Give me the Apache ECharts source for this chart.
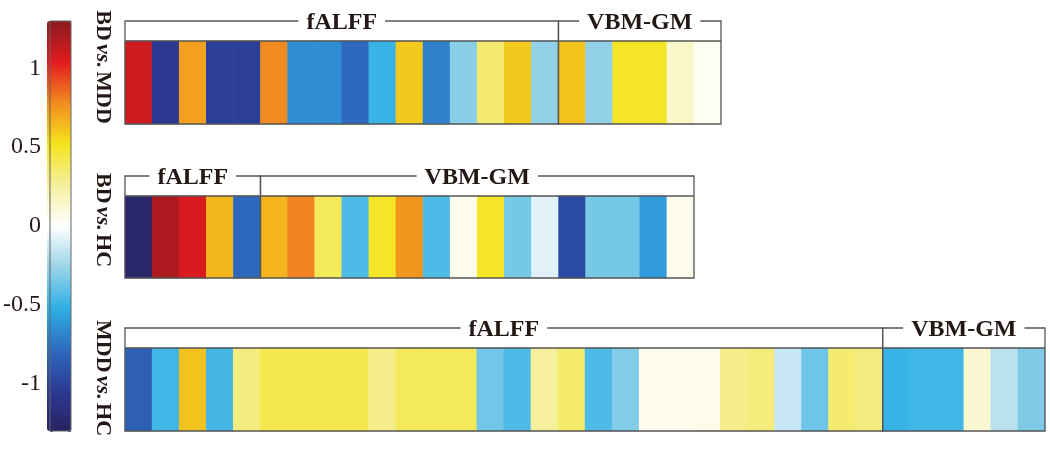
<!DOCTYPE html>
<html>
<head>
<meta charset="utf-8">
<script src="https://cdn.jsdelivr.net/npm/echarts@6/dist/echarts.min.js"></script>
<style>
  html, body { margin: 0; padding: 0; background: #fff; }
  #chart { width: 1050px; height: 450px; }
</style>
</head>
<body>
<div id="chart"></div>
<script>
// cell values per comparison
const bdMdd = [1.1, -1.05, 0.72, -1.02, -1.02, 0.78, -0.65, -0.65, -0.8, -0.5, 0.6, -0.7, -0.3, 0.35, 0.6, -0.28,
  0.62, -0.28, 0.5, 0.5, 0.15, 0.03];
const bdHc = [-1.25, 1.2, 1.07, 0.65, -0.8,
  0.66, 0.8, 0.4, -0.45, 0.5, 0.75, -0.45, 0.05, 0.5, -0.35, -0.08, -0.95, -0.35, -0.35, -0.6, 0.06];
const mddHc = [-0.85, -0.48, 0.62, -0.47, 0.32, 0.42, 0.42, 0.42, 0.42, 0.3, 0.4, 0.4, 0.4, -0.36, -0.45, 0.26,
  0.36, -0.45, -0.32, 0.05, 0.05, 0.06, 0.3, 0.33, -0.15, -0.37, 0.35, 0.32,
  -0.5, -0.48, -0.48, 0.12, -0.18, -0.33];

// bracket groups per row
const groupNames1 = ['fALFF', 'VBM-GM'];
const groupSizes1 = [16, 6];
const groupNames2 = ['fALFF', 'VBM-GM'];
const groupSizes2 = [5, 16];
const groupNames3 = ['fALFF', 'VBM-GM'];
const groupSizes3 = [28, 6];

const rowLabels = ['BD', 'MDD', 'BD', 'HC', 'MDD', 'HC'];
const colorTicks = [-1, -0.5, 0, 0.5, 1];
const cMin = -1.3, cMax = 1.3;

const palette = ['#2a2260', '#2b3a95', '#2e6cbf', '#30b0e6', '#9bd4e8', '#ffffff',
  '#f5ef9e', '#f4e41c', '#f28b1f', '#e11b1f', '#8b1a1f'];

const serif = '"Liberation Serif", "DejaVu Serif", serif';
const ink = '#231815';
const lineCol = '#555';

const rows = [
  { vals: bdMdd, names: groupNames1, sizes: groupSizes1 },
  { vals: bdHc, names: groupNames2, sizes: groupSizes2 },
  { vals: mddHc, names: groupNames3, sizes: groupSizes3 },
];
const grids = [
  { left: 125, top: 41, width: 596, height: 83 },
  { left: 125, top: 196, width: 569, height: 82 },
  { left: 125, top: 348, width: 920, height: 83 },
  { left: 47, top: 21, width: 24, height: 410, show: true, z: 6,
    backgroundColor: 'rgba(0,0,0,0)', borderColor: '#666', borderWidth: 1 },
];

const xAxis = [], yAxis = [], series = [];
rows.forEach((row, i) => {
  xAxis.push({ type: 'category', gridIndex: i, show: false,
    data: row.vals.map((v, k) => String(k)) });
  yAxis.push({ type: 'category', gridIndex: i, show: false, data: ['r'] });
});
rows.forEach((row, i) => {
  series.push({
    type: 'heatmap', xAxisIndex: i, yAxisIndex: i,
    data: row.vals.map((v, k) => [k, 0, v]),
    emphasis: { disabled: true }, z: 2,
  });
});
rows.forEach((row, i) => {
  const data = [];
  let s = 0;
  row.sizes.forEach((n) => { data.push([s, s + n - 1]); s += n; });
  series.push({
    type: 'custom', xAxisIndex: i, yAxisIndex: i, z: 5, silent: true,
    data: data,
    renderItem: (params, api) => {
      const cs = params.coordSys;
      const bw = api.size([1, 0])[0];
      const x0 = api.coord([api.value(0), 0])[0] - bw / 2;
      const x1 = api.coord([api.value(1), 0])[0] + bw / 2;
      const top = cs.y - 20;
      const bottom = cs.y + cs.height;
      return {
        type: 'group',
        children: [
          { type: 'rect', shape: { x: x0, y: top, width: x1 - x0, height: bottom - top },
            style: { fill: 'none', stroke: lineCol, lineWidth: 1.3 } },
          { type: 'line', shape: { x1: x0, y1: cs.y, x2: x1, y2: cs.y },
            style: { stroke: lineCol, lineWidth: 1.3 } },
          { type: 'text', x: (x0 + x1) / 2, y: top + 2,
            style: { text: row.names[params.dataIndex], align: 'center', verticalAlign: 'middle',
              font: 'bold 24px ' + serif, fill: ink, backgroundColor: '#fff', padding: [0, 8] } },
        ],
      };
    },
  });
});

// colorbar axis
xAxis.push({ type: 'value', gridIndex: 3, show: false });
yAxis.push({
  type: 'value', gridIndex: 3, min: cMin, max: cMax, splitNumber: 5,
  axisLine: { show: false }, splitLine: { show: false },
  axisTick: { inside: true, length: 3, lineStyle: { color: '#555' } },
  axisLabel: { margin: 9, fontFamily: serif, fontSize: 24, color: ink,
    formatter: (v) => colorTicks.some((t) => Math.abs(t - v) < 1e-6) ? String(v) : '' },
});
yAxis.push({
  type: 'value', gridIndex: 3, position: 'right', min: cMin, max: cMax, splitNumber: 5,
  axisLine: { show: false }, splitLine: { show: false },
  axisTick: { inside: true, length: 3, lineStyle: { color: '#555' } },
  axisLabel: { show: false },
});

const labelY = [67, 220, 378];
const graphic = labelY.map((y, i) => ({
  type: 'text', x: 103, y: y, rotation: -Math.PI / 2, silent: true,
  style: {
    text: '{b|' + rowLabels[i * 2] + '} {i|vs.} {b|' + rowLabels[i * 2 + 1] + '}',
    align: 'center', verticalAlign: 'middle',
    rich: {
      b: { font: 'bold 22px ' + serif, fill: ink },
      i: { font: 'italic bold 22px ' + serif, fill: ink },
    },
  },
}));

const chart = echarts.init(document.getElementById('chart'), null, { renderer: 'canvas' });
chart.setOption({
  animation: false,
  backgroundColor: '#fff',
  grid: grids,
  xAxis: xAxis,
  yAxis: yAxis,
  visualMap: {
    type: 'continuous', min: cMin, max: cMax, seriesIndex: [0, 1, 2],
    calculable: false, hoverLink: false, text: null, showLabel: false,
    orient: 'vertical', left: 47, top: 21, padding: 0, itemWidth: 24, itemHeight: 410,
    inRange: { color: palette },
  },
  series: series,
  graphic: graphic,
});
</script>
</body>
</html>
